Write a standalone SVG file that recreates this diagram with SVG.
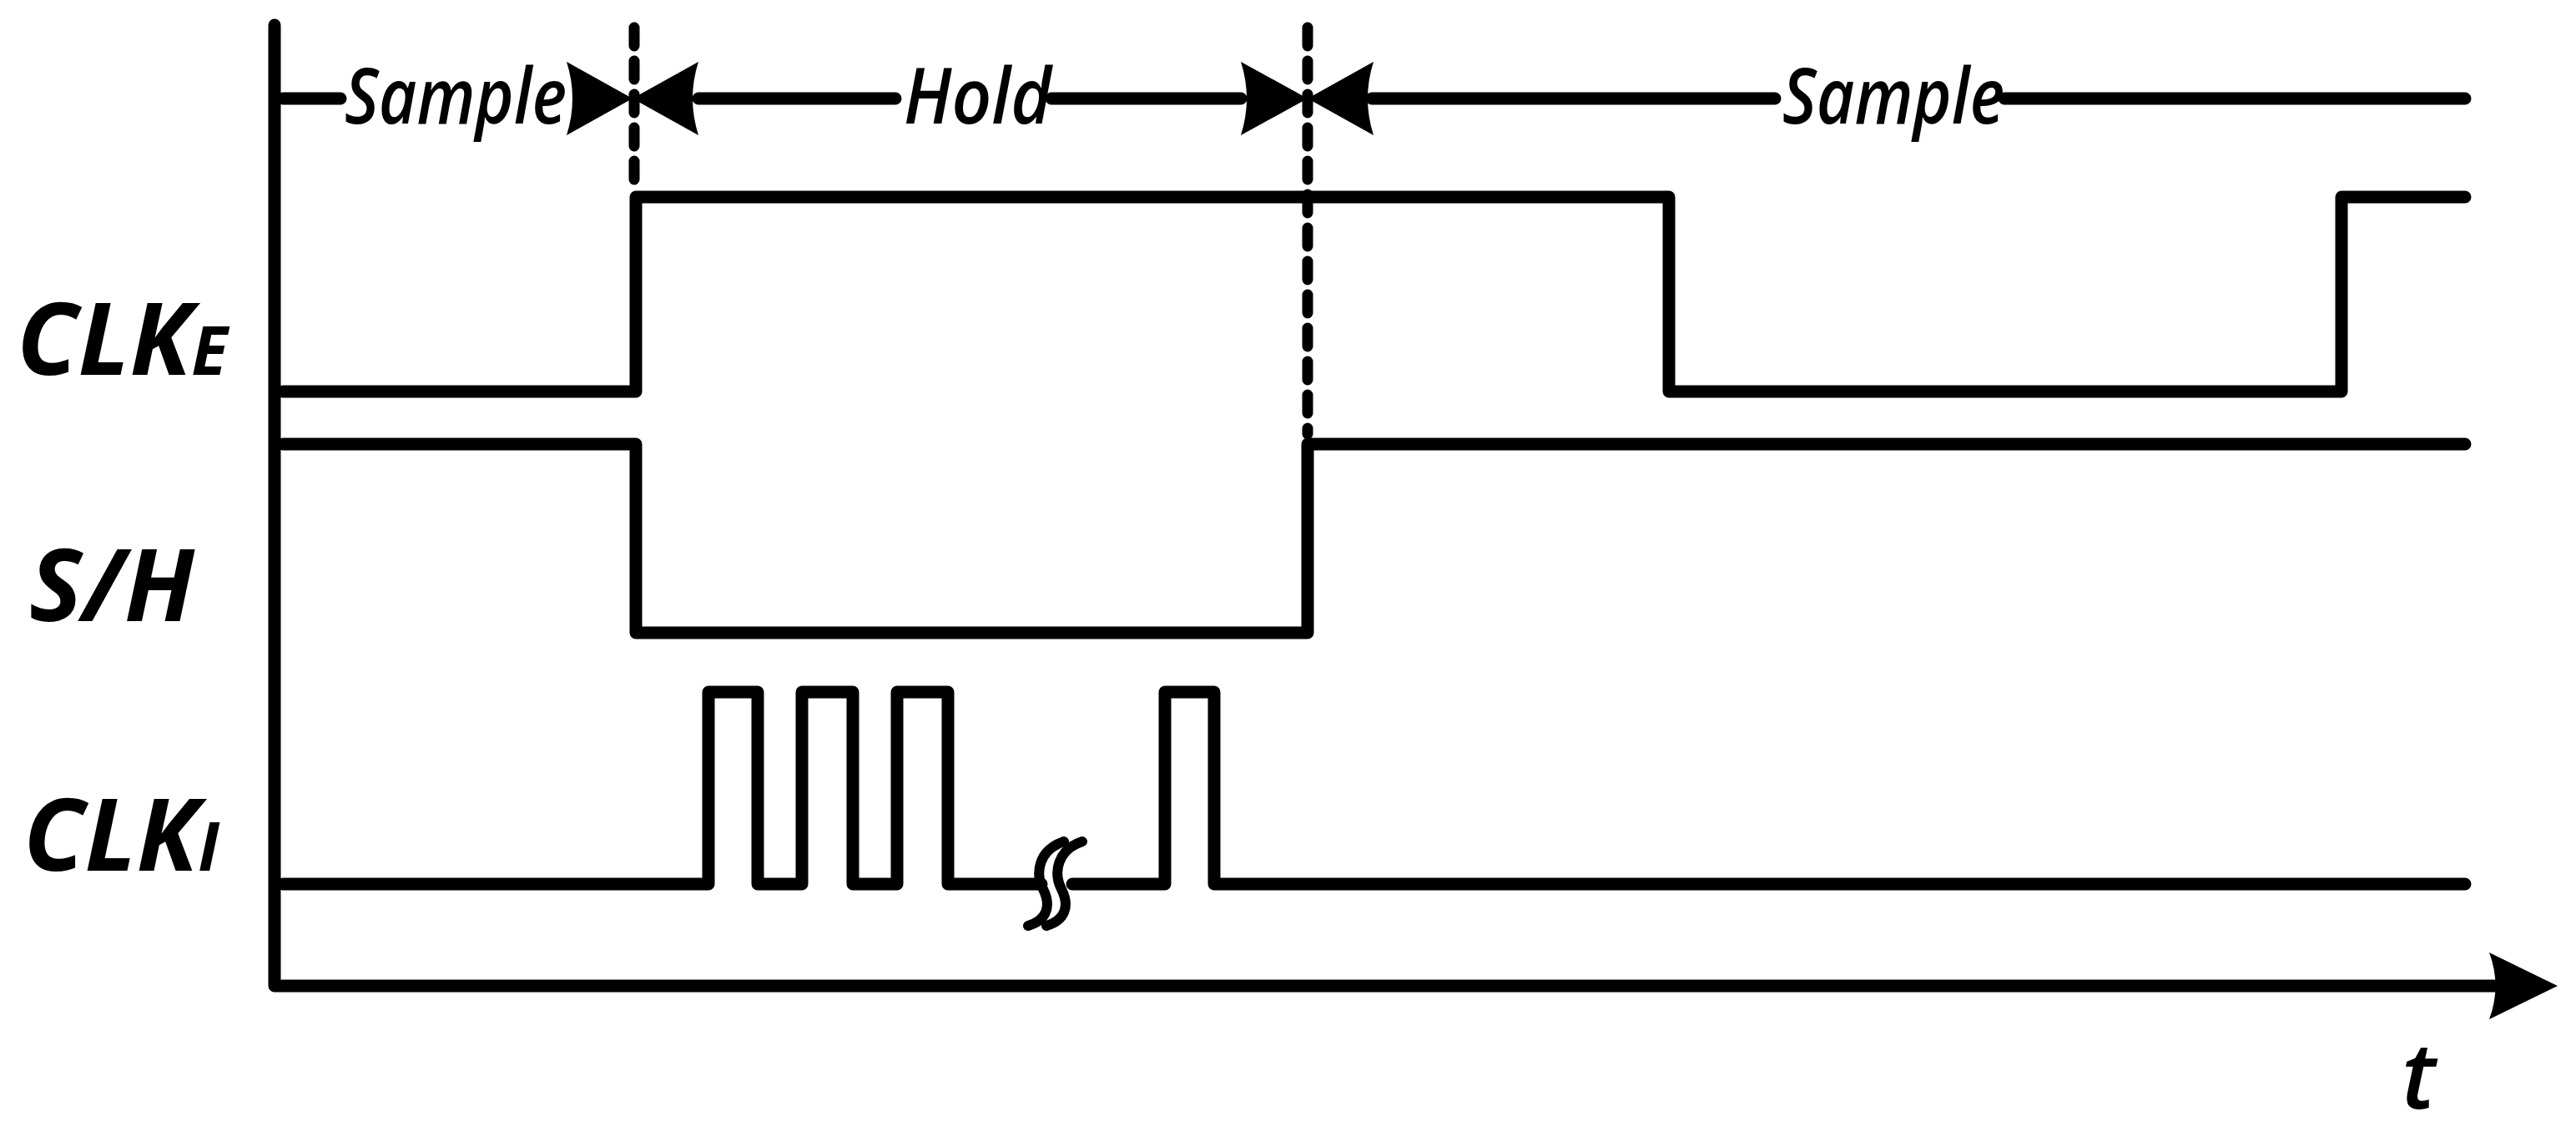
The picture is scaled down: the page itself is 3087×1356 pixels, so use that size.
<svg xmlns="http://www.w3.org/2000/svg" width="3087" height="1356" viewBox="0 0 3087 1356">
<style>
.w{fill:none;stroke:#000;stroke-width:15;stroke-linecap:round;stroke-linejoin:round}
.s{fill:none;stroke:#000;stroke-width:12;stroke-linecap:round}
.d{fill:none;stroke:#000;stroke-width:13;stroke-linecap:round;stroke-dasharray:22 18}
.lb{font-family:"Open Sans","DejaVu Sans",sans-serif;font-style:italic;font-weight:700;font-size:120px;fill:#000}
.ph{font-family:"Open Sans","DejaVu Sans",sans-serif;font-style:italic;font-weight:600;font-size:92px;fill:#000}
.ah{fill:#000}
</style>
<rect width="3087" height="1356" fill="#fff"/>
<g id="axes">
<path class="w" d="M329,30 V1181 H2990"/>
<path class="ah" d="M3065,1181 L2983,1141 Q2998,1181 2983,1221 Z"/>
<text class="lb" x="2878" y="1328" style="font-weight:600;font-size:110px">t</text>
</g>
<g id="labels">
<text class="lb" x="20" y="449">CLK<tspan font-size="80">E</tspan></text>
<text class="lb" x="35" y="744">S/H</text>
<text class="lb" x="28" y="1043">CLK<tspan font-size="80">I</tspan></text>
</g>
<g id="phases">
<path class="w" d="M339,118 H408 M837,118 H1073 M1260,118 H1487 M1644,118 H2127 M2402,118 H2954"/>
<text class="ph" x="413" y="148" textLength="266" lengthAdjust="spacingAndGlyphs">Sample</text>
<text class="ph" x="1083" y="148" textLength="177" lengthAdjust="spacingAndGlyphs">Hold</text>
<text class="ph" x="2136" y="148" textLength="266" lengthAdjust="spacingAndGlyphs">Sample</text>
<path class="ah" d="M758,118 L679,74 Q693,118 679,162 Z"/>
<path class="ah" d="M758,118 L837,74 Q823,118 837,162 Z"/>
<path class="ah" d="M1567,118 L1487,74 Q1501,118 1487,162 Z"/>
<path class="ah" d="M1567,118 L1646,74 Q1632,118 1646,162 Z"/>
</g>
<g id="connectors">
<path class="d" d="M760,33 V225"/>
<path class="d" d="M1567,33 V520"/>
</g>
<g id="clke">
<path class="w" d="M339,469 H762 V236 H2000 V469 H2806 V236 H2954"/>
</g>
<g id="sh">
<path class="w" d="M339,532 H762 V758 H1567 V532 H2954"/>
</g>
<g id="clki">
<path class="w" d="M339,1059 H849 V829 H908 V1059 H961 V829 H1022 V1059 H1075 V829 H1136 V1059 H1248 M1285,1059 H1396 V829 H1455 V1059 H2954"/>
<path class="s" d="M1275,1008 C1245,1018 1240,1045 1250,1065 C1260,1085 1255,1102 1232,1109"/>
<path class="s" d="M1297,1008 C1267,1018 1262,1045 1272,1065 C1282,1085 1277,1102 1254,1109"/>
</g>
</svg>
